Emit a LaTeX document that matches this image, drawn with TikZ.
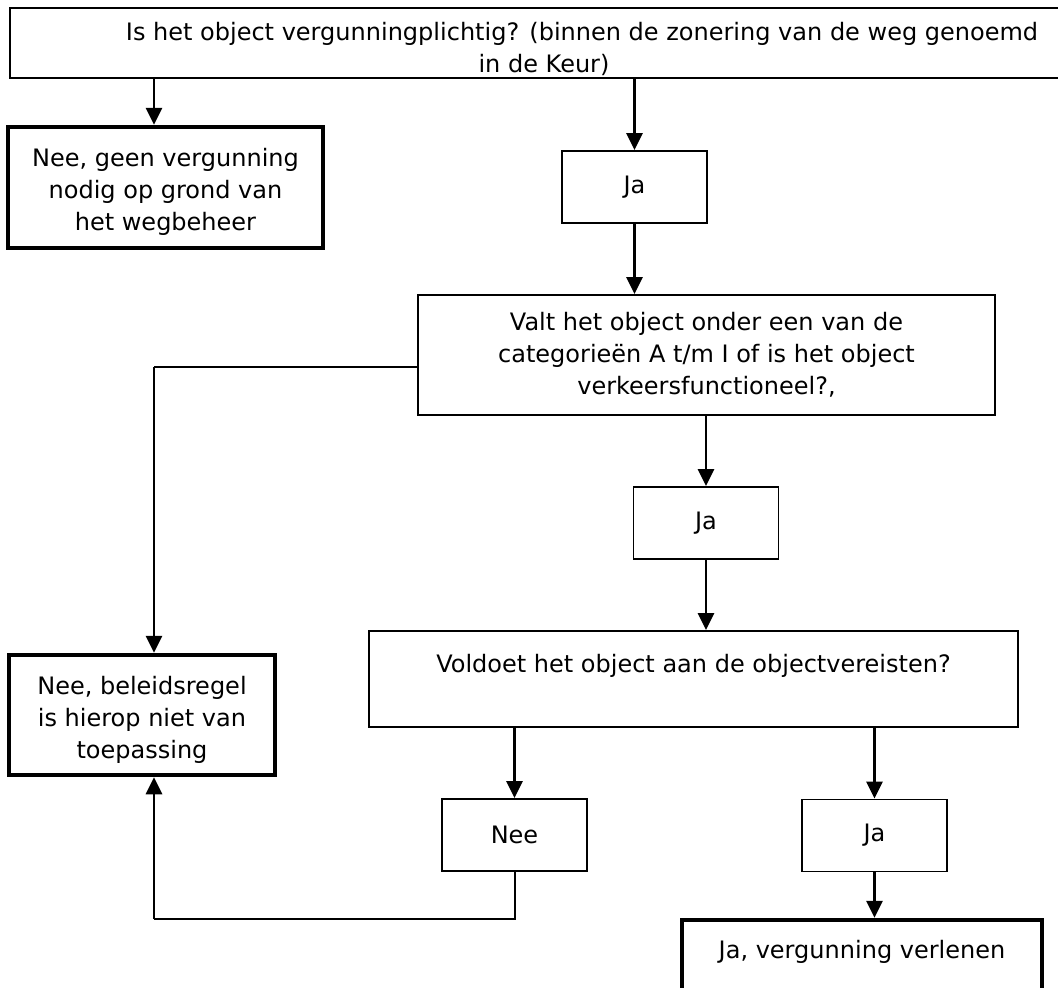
\documentclass[tikz,border=0pt]{standalone}
\usepackage{fontspec}
\setmainfont{DejaVu Sans}
\usetikzlibrary{arrows.meta}

\begin{document}
\begin{tikzpicture}[x=1pt,y=-1pt,line width=2.8pt,
      every node/.style={inner sep=0pt,align=center,font=\fontsize{24}{32}\selectfont},
      box/.style={draw,line width=1.8pt},
      boldbox/.style={draw,line width=4.5pt},
      elbow/.style={line width=2pt},
      >={Triangle[width=16pt,length=17pt]}]
  \useasboundingbox(0,0)rectangle(1058,988);
  \clip(0,0)rectangle(1058,988);
  \node[box,minimum width=1068pt,minimum height=70pt](vraag)at(544,43)
     {\hspace*{76pt}\rule{0pt}{31pt}Is het object vergunningplichtig? (binnen de zonering van de weg genoemd\\in de Keur)};
  \node[boldbox,minimum width=315pt,minimum height=121pt](neeweg)at(165.5,187.5)
     {\rule{0pt}{27pt}Nee, geen vergunning\\nodig op grond van\\het wegbeheer};
  \node[box,minimum width=145pt,minimum height=72pt](ja1)at(634.5,187){Ja};
  \node[box,minimum width=577pt,minimum height=120pt](vraagcat)at(706.5,355)
     {Valt het object onder een van de\\categorieën A t/m I of is het object\\verkeersfunctioneel?,};
  \node[box,minimum width=145pt,minimum height=72pt](ja2)at(706,523){Ja};
  \node[box,minimum width=649pt,minimum height=96pt](vraageis)at(693.5,679)
     {Voldoet het object aan de objectvereisten?\\\mbox{}};
  \node[boldbox,minimum width=266pt,minimum height=120pt](neeregel)at(142,715)
     {\rule{0pt}{27pt}Nee, beleidsregel\\is hierop niet van\\toepassing};
  \node[box,minimum width=145pt,minimum height=72pt](nee)at(514.5,835){Nee};
  \node[box,minimum width=145pt,minimum height=72pt](ja3)at(874.5,835.5){Ja};
  \node[boldbox,minimum width=360pt,minimum height=90pt](verlenen)at(862,965)
     {Ja, vergunning verlenen\\\mbox{}};
  \coordinate(links)at(154,367);
  \coordinate(terug)at(154,919);
  \draw[->](vraag.south-|links)--(neeweg.north-|links);
  \draw[->](vraag.south-|ja1)--(ja1.north);
  \draw[->](ja1.south)--(ja1.south|-vraagcat.north);
  \draw[->](vraagcat.south-|ja2)--(ja2.north);
  \draw[->](ja2.south)--(ja2.south|-vraageis.north);
  \draw[->](vraageis.south-|nee)--(nee.north);
  \draw[->](vraageis.south-|ja3)--(ja3.north);
  \draw[->](ja3.south)--(ja3.south|-verlenen.north);
  \draw[elbow](vraagcat.west|-links)--(links);
  \draw[->](links)--(neeregel.north-|links);
  \draw[elbow](nee.south)|-(terug);
  \draw[->](terug)--(neeregel.south-|terug);
\end{tikzpicture}
\end{document}
